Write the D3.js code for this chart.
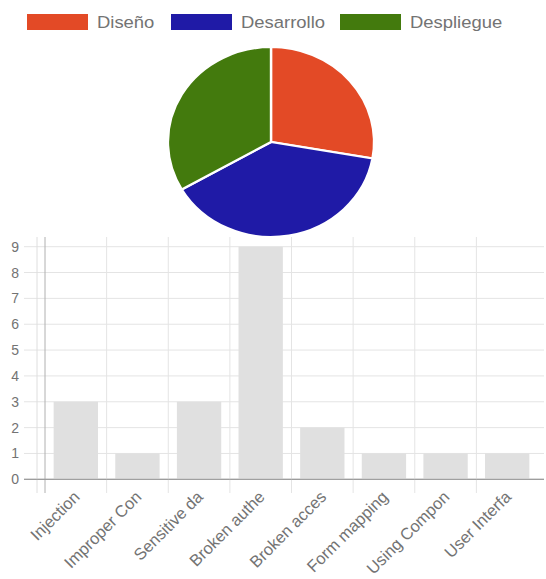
<!DOCTYPE html>
<html>
<head>
<meta charset="utf-8">
<script src="https://cdn.jsdelivr.net/npm/d3@7"></script>
<style>
  html, body { margin: 0; padding: 0; background: #fff; }
  svg { display: block; font-family: "Liberation Sans", Arial, sans-serif; }
</style>
</head>
<body>
<svg id="chart" width="546" height="579"></svg>
<script>
(function () {
// ---- data ----
const pieLabels = ["Diseño", "Desarrollo", "Despliegue"];
const pieValues = [5, 7, 6];
const pieColors = ["#e34a26", "#1f1aa6", "#437a0d"];

const barCategories = ["Injection", "Improper Con", "Sensitive da", "Broken authe",
                       "Broken acces", "Form mapping", "Using Compon", "User Interfa"];
const barValues = [3, 1, 3, 9, 2, 1, 1, 1];
const yTicks = [0, 1, 2, 3, 4, 5, 6, 7, 8, 9];

const svg = d3.select("#chart");
const textColor = "#737373";

// ---- legend ----
const legendX = [27, 171, 340];
const legend = svg.append("g");
pieLabels.forEach((lab, i) => {
  legend.append("rect").attr("x", legendX[i]).attr("y", 14).attr("width", 61).attr("height", 16)
    .attr("fill", pieColors[i]);
  legend.append("text").attr("transform", `translate(${legendX[i] + 70},28) scale(1.085,1)`)
    .attr("font-size", 17).attr("fill", textColor).text(lab);
});

// ---- pie ----
const pie = d3.pie().sort(null).value(d => d)(pieValues);
const r = 95;
const arc = d3.arc().innerRadius(0).outerRadius(r);
const pg = svg.append("g").attr("transform", "translate(271,142) scale(1.085,1)");
pg.selectAll("path").data(pie).join("path")
  .attr("d", arc)
  .attr("fill", (d, i) => pieColors[i])
  .attr("stroke", "#fff").attr("stroke-width", 2.2);

// ---- bar chart ----
const plotLeft = 45, plotRight = 538, plotTop = 237, yTop = 246.7, yBottom = 479.3;
const x = d3.scaleBand().domain(barCategories).range([plotLeft, plotRight])
  .paddingInner(0.28).paddingOuter(0.14);
const y = d3.scaleLinear().domain([0, 9]).range([yBottom, yTop]);
const half = x.step() * x.paddingInner() / 2;

const grid = svg.append("g");
grid.selectAll("line.h").data(yTicks).join("line")
  .attr("x1", 24).attr("x2", 544)
  .attr("y1", d => y(d)).attr("y2", d => y(d))
  .attr("stroke", d => d === 0 ? "#999" : "#e4e4e4").attr("stroke-width", 1);
grid.selectAll("line.v").data(barCategories).join("line")
  .attr("x1", d => x(d) - half).attr("x2", d => x(d) - half)
  .attr("y1", plotTop).attr("y2", 493)
  .attr("stroke", (d, i) => i === 0 ? "#b0b0b0" : "#e4e4e4").attr("stroke-width", 1);
grid.append("line").attr("x1", 37).attr("x2", 37).attr("y1", plotTop).attr("y2", 493)
  .attr("stroke", "#dedede");

svg.append("g").selectAll("rect").data(barValues).join("rect")
  .attr("x", (d, i) => x(barCategories[i]))
  .attr("width", x.bandwidth())
  .attr("y", d => y(d))
  .attr("height", d => y(0) - y(d))
  .attr("fill", "#e0e0e0");

svg.append("line").attr("x1", 24).attr("x2", 544).attr("y1", y(0)).attr("y2", y(0))
  .attr("stroke", "#999");

svg.append("g").selectAll("text").data(yTicks).join("text")
  .attr("x", 19).attr("y", d => y(d) + 5)
  .attr("text-anchor", "end").attr("font-size", 14).attr("fill", textColor)
  .text(d => d);

svg.append("g").selectAll("text").data(barCategories).join("text")
  .attr("transform", d => `translate(${x(d) + x.bandwidth() / 2 + 5},${498}) rotate(-45)`)
  .attr("text-anchor", "end").attr("font-size", 16.5).attr("fill", textColor)
  .text(d => d);
})();
</script>
</body>
</html>
